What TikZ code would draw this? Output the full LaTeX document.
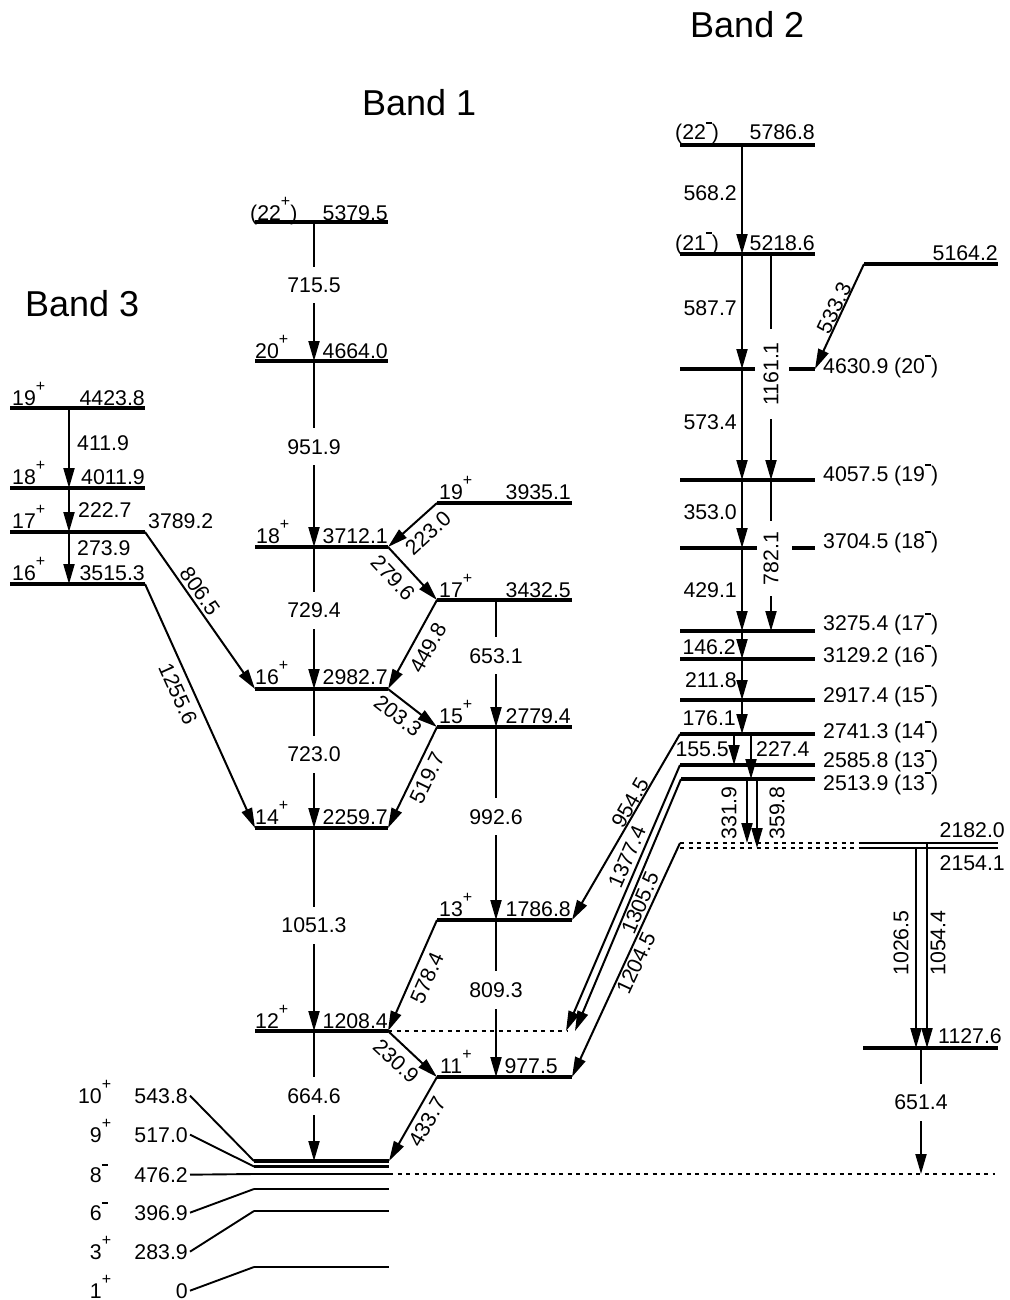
\documentclass[tikz,border=0pt]{standalone}
\usepackage{fontspec}
\setmainfont{Liberation Sans}
\usetikzlibrary{arrows.meta}
\newcommand\SP[1]{\raisebox{14pt}{\fontsize{16}{16}\selectfont #1}}
\newcommand\MN{\raisebox{16pt}{\rule{6pt}{1.6pt}}}
\newcommand\labfont{\fontsize{21.3}{24}\selectfont}
\newcommand\titlefont{\fontsize{36}{40}\selectfont}
\begin{document}
\begin{tikzpicture}[x=1pt,y=-1pt,
  lvl/.style={line width=3.4pt},
  glev/.style={line width=2.7pt},
  dlev/.style={line width=2.5pt},
  tr/.style={line width=2pt,-{Triangle[length=20pt,width=11pt]}},
  cl/.style={line width=1.9pt},
  dotl/.style={line width=1.6pt,dash pattern=on 4pt off 4.5pt},
  lab/.style={font=\labfont,inner sep=0pt},
  gl/.style={lab,fill=white,inner xsep=1pt,inner ysep=11pt},
  vl/.style={lab,rotate=90},
  ttl/.style={font=\titlefont,inner sep=0pt,anchor=base west},
  en/.style={lab,anchor=base east},
  sp/.style={lab,anchor=base west},
]
\useasboundingbox (0,0) rectangle (1009,1300);

% titles
\node[ttl] (t1) at (362,116) {Band 1};
\node[ttl] (t2) at (690,38) {Band 2};
\node[ttl] (t3) at (25,316) {Band 3};

% x positions of transitions
\coordinate (x69) at (69,0);
\coordinate (x314) at (314,0);
\coordinate (x496) at (496,0);
\coordinate (x742) at (742,0);
\coordinate (x771) at (771,0);
\coordinate (x734) at (734,0);
\coordinate (x751) at (751,0);
\coordinate (x747) at (747,0);
\coordinate (x757) at (757,0);
\coordinate (x916) at (916,0);
\coordinate (x927) at (927,0);
\coordinate (x921) at (921,0);

% ---------------- Band 3 levels
\coordinate (s19l) at (10,408); \coordinate (s19r) at (145,408);
\coordinate (s18l) at (10,488); \coordinate (s18r) at (145,488);
\coordinate (s17l) at (10,532); \coordinate (s17r) at (145,532);
\coordinate (s16l) at (10,584); \coordinate (s16r) at (145,584);
\draw[lvl] (s19l) -- (s19r);
\draw[lvl] (s18l) -- (s18r);
\draw[lvl] (s17l) -- (s17r);
\draw[lvl] (s16l) -- (s16r);
\node[sp] (s19s) at (12,405) {19\SP{+}};
\node[en] (s19e) at (145,405) {4423.8};
\node[sp] (s18s) at (12,484) {18\SP{+}};
\node[en] (s18e) at (145,484) {4011.9};
\node[sp] (s17s) at (12,528) {17\SP{+}};
\node[sp] (s17e) at (148,528) {3789.2};
\node[sp] (s16s) at (12,580) {16\SP{+}};
\node[en] (s16e) at (145,580) {3515.3};

% ---------------- Band 1 levels
\coordinate (a22l) at (255,222); \coordinate (a22r) at (388,222);
\coordinate (a20l) at (255,361); \coordinate (a20r) at (388,361);
\coordinate (a18l) at (255,547); \coordinate (a18r) at (388,547);
\coordinate (a16l) at (255,689); \coordinate (a16r) at (388,689);
\coordinate (a14l) at (255,828); \coordinate (a14r) at (388,828);
\coordinate (a12l) at (255,1031); \coordinate (a12r) at (388,1031);
\foreach \n in {a22,a20,a18,a16,a14,a12} \draw[lvl] (\n l) -- (\n r);
\node[sp] (a22s) at (250,220) {(22\SP{+})};
\node[en] (a22e) at (388,220) {5379.5};
\node[sp] (a20s) at (255,358) {20\SP{+}};
\node[en] (a20e) at (388,358) {4664.0};
\node[sp] (a18s) at (256,543) {18\SP{+}};
\node[en] (a18e) at (388,543) {3712.1};
\node[sp] (a16s) at (255,684) {16\SP{+}};
\node[en] (a16e) at (388,684) {2982.7};
\node[sp] (a14s) at (255,824) {14\SP{+}};
\node[en] (a14e) at (388,824) {2259.7};
\node[sp] (a12s) at (255,1028) {12\SP{+}};
\node[en] (a12e) at (388,1028) {1208.4};

% side band of band 1
\coordinate (c19l) at (437,503); \coordinate (c19r) at (572,503);
\coordinate (c17l) at (437,600); \coordinate (c17r) at (572,600);
\coordinate (c15l) at (437,727); \coordinate (c15r) at (572,727);
\coordinate (c13l) at (437,920); \coordinate (c13r) at (572,920);
\coordinate (c11l) at (437,1077); \coordinate (c11r) at (572,1077);
\foreach \n in {c19,c17,c15,c13,c11} \draw[lvl] (\n l) -- (\n r);
\node[sp] (c19s) at (439,499) {19\SP{+}};
\node[en] (c19e) at (571,499) {3935.1};
\node[sp] (c17s) at (439,597) {17\SP{+}};
\node[en] (c17e) at (571,597) {3432.5};
\node[sp] (c15s) at (439,723) {15\SP{+}};
\node[en] (c15e) at (571,723) {2779.4};
\node[sp] (c13s) at (439,916) {13\SP{+}};
\node[en] (c13e) at (571,916) {1786.8};
\node[sp] (c11s) at (440,1073) {11\SP{+}};
\node[en] (c11e) at (558,1073) {977.5};

% ground levels
\coordinate (g10l) at (254,1161); \coordinate (g10r) at (389,1161);
\coordinate (g9l) at (254,1166.5); \coordinate (g9r) at (389,1166.5);
\coordinate (g8l) at (254,1174); \coordinate (g8r) at (389,1174);
\coordinate (g6l) at (254,1189); \coordinate (g6r) at (389,1189);
\coordinate (g3l) at (254,1211); \coordinate (g3r) at (389,1211);
\coordinate (g1l) at (254,1267); \coordinate (g1r) at (389,1267);
\draw[lvl] (g10l) -- (g10r);
\foreach \n in {g9,g8,g6,g3,g1} \draw[glev] (\n l) -- (\n r);
\node[en] (j10) at (102,1103) {10\rlap{\SP{+}}};
\node[en] (e10) at (188,1103) {543.8};
\node[en] (j9) at (102,1142) {9\rlap{\SP{+}}};
\node[en] (e9) at (188,1142) {517.0};
\node[en] (j8) at (102,1182) {8\rlap{\MN}};
\node[en] (e8) at (188,1182) {476.2};
\node[en] (j6) at (102,1220) {6\rlap{\MN}};
\node[en] (e6) at (188,1220) {396.9};
\node[en] (j3) at (102,1259) {3\rlap{\SP{+}}};
\node[en] (e3) at (188,1259) {283.9};
\node[en] (j1) at (102,1298) {1\rlap{\SP{+}}};
\node[en] (e1) at (188,1298) {0};
\draw[cl] ([xshift=2pt]e10.east) -- (g10l);
\draw[cl] ([xshift=2pt]e9.east) -- (g9l);
\draw[cl] ([xshift=2pt]e8.east) -- (g8l);
\draw[cl] ([xshift=2pt]e6.east) -- (g6l);
\draw[cl] ([xshift=2pt]e3.east) -- (g3l);
\draw[cl] ([xshift=2pt]e1.east) -- (g1l);

% dotted lines
\coordinate (dot8) at (995,1174);
\coordinate (dot12) at (567,1031);
\draw[dotl] (g8r) -- (dot8);
\draw[dotl] (a12r) -- (dot12);

% ---------------- Band 2 levels
\coordinate (d22l) at (680,145); \coordinate (d22r) at (815,145);
\coordinate (d21l) at (680,254); \coordinate (d21r) at (815,254);
\coordinate (d20l) at (680,369); \coordinate (d20a) at (755,369);
\coordinate (d20b) at (789,369); \coordinate (d20r) at (815,369);
\coordinate (d19l) at (680,480); \coordinate (d19r) at (815,480);
\coordinate (d18l) at (680,548); \coordinate (d18a) at (757,548);
\coordinate (d18b) at (792,548); \coordinate (d18r) at (815,548);
\coordinate (d17l) at (680,631); \coordinate (d17r) at (815,631);
\coordinate (d16l) at (680,659); \coordinate (d16r) at (815,659);
\coordinate (d15l) at (680,700); \coordinate (d15r) at (815,700);
\coordinate (d14l) at (680,734); \coordinate (d14r) at (815,734);
\coordinate (d13al) at (680,765); \coordinate (d13ar) at (815,765);
\coordinate (d13bl) at (681,779); \coordinate (d13br) at (815,779);
\foreach \n in {d22,d21,d19,d17,d16,d15,d14,d13a,d13b} \draw[lvl] (\n l) -- (\n r);
\draw[lvl] (d20l) -- (d20a);
\draw[lvl] (d20b) -- (d20r);
\draw[lvl] (d18l) -- (d18a);
\draw[lvl] (d18b) -- (d18r);
\node[sp] (d22s) at (675,140) {(22\MN)};
\node[en] (d22e) at (815,140) {5786.8};
\node[sp] (d21s) at (675,250) {(21\MN)};
\node[en] (d21e) at (815,250) {5218.6};
\node[sp] (d20e) at (823,373) {4630.9 (20\MN)};
\node[sp] (d19e) at (823,481.5) {4057.5 (19\MN)};
\node[sp] (d18e) at (823,548.5) {3704.5 (18\MN)};
\node[sp] (d17e) at (823,630.5) {3275.4 (17\MN)};
\node[sp] (d16e) at (823,662.5) {3129.2 (16\MN)};
\node[sp] (d15e) at (823,702.5) {2917.4 (15\MN)};
\node[sp] (d14e) at (823,738.5) {2741.3 (14\MN)};
\node[sp] (d13ae) at (823,767.5) {2585.8 (13\MN)};
\node[sp] (d13be) at (823,790) {2513.9 (13\MN)};

\coordinate (e51l) at (864,264); \coordinate (e51r) at (998,264);
\draw[lvl] (e51l) -- (e51r);
\node[en] (e51e) at (998,260) {5164.2};

% 2182.0 / 2154.1 / 1127.6
\coordinate (f82l) at (680,843); \coordinate (f82m) at (862,843); \coordinate (f82r) at (998,843);
\coordinate (f54l) at (680,848); \coordinate (f54m) at (862,848); \coordinate (f54r) at (998,848);
\coordinate (f11l) at (863,1048); \coordinate (f11r) at (998,1048);
\draw[dotl] (f82l) -- (f82m);
\draw[dotl] (f54l) -- (f54m);
\draw[dlev] (f82m) -- (f82r);
\draw[dlev] (f54m) -- (f54r);
\draw[lvl] (f11l) -- (f11r);
\node[en] (f82e) at (1005,837) {2182.0};
\node[en] (f54e) at (1005,870) {2154.1};
\node[en] (f11e) at (1002,1043) {1127.6};

% ---------------- transitions, Band 3
\draw[tr] (s19l -| x69) -- (s18l -| x69);
\draw[tr] (s18l -| x69) -- (s17l -| x69);
\draw[tr] (s17l -| x69) -- (s16l -| x69);
\node[lab,anchor=west] (g4119) at (77,443) {411.9};
\node[lab,anchor=west] (g2227) at (78,510) {222.7};
\node[lab,anchor=west] (g2739) at (77,548) {273.9};
\draw[tr] (s17r) -- (a16l) node[lab,rotate=-55] (g8065) at (200,591) {806.5};
\draw[tr] (s16r) -- (a14l) node[lab,rotate=-65.8] (g12556) at (178,694) {1255.6};

% ---------------- transitions, Band 1
\draw[tr] (a22l -| x314) -- node[gl,pos=0.453] (g7155) {715.5} (a20l -| x314);
\draw[tr] (a20l -| x314) -- node[gl,pos=0.462] (g9519) {951.9} (a18l -| x314);
\draw[tr] (a18l -| x314) -- node[gl,pos=0.444] (g7294) {729.4} (a16l -| x314);
\draw[tr] (a16l -| x314) -- node[gl,pos=0.468] (g7230) {723.0} (a14l -| x314);
\draw[tr] (a14l -| x314) -- node[gl,pos=0.478] (g10513) {1051.3} (a12l -| x314);
\draw[tr] (a12l -| x314) -- node[gl,pos=0.5] (g6646) {664.6} (g10l -| x314);
\draw[tr] (c17l -| x496) -- node[gl,pos=0.44] (g6531) {653.1} (c15l -| x496);
\draw[tr] (c15l -| x496) -- node[gl,pos=0.466] (g9926) {992.6} (c13l -| x496);
\draw[tr] (c13l -| x496) -- node[gl,pos=0.446] (g8093) {809.3} (c11l -| x496);

\draw[tr] (c19l) -- (a18r) node[lab,rotate=42.6] (g2230) at (428,533) {223.0};
\draw[tr] (a18r) -- (c17l) node[lab,rotate=-47] (g2796) at (393,578) {279.6};
\draw[tr] (c17l) -- (a16r) node[lab,rotate=61] (g4498) at (428,648) {449.8};
\draw[tr] (a16r) -- (c15l) node[lab,rotate=-38] (g2033) at (398,716) {203.3};
\draw[tr] (c15l) -- (a14r) node[lab,rotate=64] (g5197) at (427,778) {519.7};
\draw[tr] (c13l) -- (a12r) node[lab,rotate=66] (g5784) at (427,978) {578.4};
\draw[tr] (a12r) -- (c11l) node[lab,rotate=-43] (g2309) at (396,1061) {230.9};
\draw[tr] (c11l) -- (g10r) node[lab,rotate=60] (g4337) at (427,1122) {433.7};

% ---------------- transitions, Band 2
\draw[tr] (d22l -| x742) -- (d21l -| x742);
\draw[tr] (d21l -| x742) -- (d20l -| x742);
\draw[tr] (d20l -| x742) -- (d19l -| x742);
\draw[tr] (d19l -| x742) -- (d18l -| x742);
\draw[tr] (d18l -| x742) -- (d17l -| x742);
\draw[tr] (d17l -| x742) -- (d16l -| x742);
\draw[tr] (d16l -| x742) -- (d15l -| x742);
\draw[tr] (d15l -| x742) -- (d14l -| x742);
\node[lab,anchor=east] (g5682) at (737,193) {568.2};
\node[lab,anchor=east] (g5877) at (737,308) {587.7};
\node[lab,anchor=east] (g5734) at (737,422) {573.4};
\node[lab,anchor=east] (g3530) at (737,512) {353.0};
\node[lab,anchor=east] (g4291) at (737,590) {429.1};
\node[lab,anchor=east] (g1462) at (736,647) {146.2};
\node[lab,anchor=east] (g2118) at (737,680) {211.8};
\node[lab,anchor=east] (g1761) at (736,718) {176.1};

\draw[tr] (d21l -| x771) -- (d19l -| x771)
  node[vl,fill=white,inner xsep=13pt,inner ysep=1pt] (g11611) at (771,374) {1161.1};
\draw[tr] (d19l -| x771) -- (d17l -| x771)
  node[vl,fill=white,inner xsep=11pt,inner ysep=1pt] (g7821) at (771,558.5) {782.1};

\draw[tr] (d14l -| x734) -- (d13al -| x734);
\node[lab,anchor=east] (g1555) at (729,749) {155.5};
\draw[tr] (d14l -| x751) -- (d13bl -| x751);
\node[lab,anchor=west] (g2274) at (756,749) {227.4};
\draw[tr] (d13bl -| x747) -- (f82l -| x747) node[vl] (g3319) at (729,813) {331.9};
\draw[tr] (d13bl -| x757) -- (f54l -| x757) node[vl] (g3598) at (777,813) {359.8};

\draw[tr] (e51l) -- (d20r) node[lab,rotate=64.5] (g5333) at (834,308) {533.3};
\draw[tr] (d14l) -- (c13r) node[lab,rotate=60] (g9545) at (630,803) {954.5};
\coordinate (p1377) at (566,1031);
\coordinate (p1305) at (575,1031);
\draw[tr] (d13al) -- (p1377) node[lab,rotate=66.7] (g13774) at (627,857) {1377.4};
\draw[tr] (d13bl) -- (p1305) node[lab,rotate=67] (g13055) at (640,903) {1305.5};
\draw[tr] (f82l) -- (c11r) node[lab,rotate=65] (g12045) at (636,963) {1204.5};

% right side
\draw[tr] (f54l -| x916) -- (f11l -| x916) node[vl] (g10265) at (901,943) {1026.5};
\draw[tr] (f82l -| x927) -- (f11l -| x927) node[vl] (g10544) at (938,943) {1054.4};
\draw[tr] (f11l -| x921) -- node[gl,pos=0.433] (g6514) {651.4} (g8l -| x921);

\end{tikzpicture}
\end{document}
